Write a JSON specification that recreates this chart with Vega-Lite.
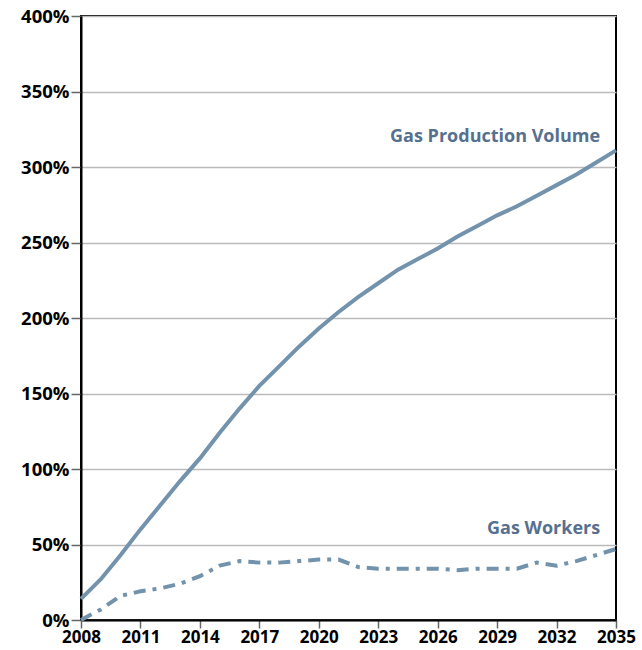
{
  "$schema": "https://vega.github.io/schema/vega-lite/v6.json",
  "width": 535,
  "height": 604,
  "autosize": {"type": "none"},
  "padding": {"left": 81, "top": 16, "right": 26, "bottom": 30},
  "background": "white",
  "config": {
    "view": {"stroke": "black", "strokeWidth": 2},
    "font": "Open Sans",
    "axis": {
      "labelFont": "Open Sans", "labelFontWeight": "bold", "labelFontSize": 17, "labelColor": "black",
      "domainColor": "black", "domainWidth": 2, "tickColor": "#666", "tickWidth": 1.5,
      "title": null
    }
  },
  "datasets": {
    "series": [
      {"year": 2008, "prod": 14, "work": 0},
      {"year": 2009, "prod": 27, "work": 7},
      {"year": 2010, "prod": 43, "work": 16},
      {"year": 2011, "prod": 60, "work": 19},
      {"year": 2012, "prod": 76, "work": 21},
      {"year": 2013, "prod": 92, "work": 24},
      {"year": 2014, "prod": 107, "work": 29},
      {"year": 2015, "prod": 124, "work": 36},
      {"year": 2016, "prod": 140, "work": 39},
      {"year": 2017, "prod": 155, "work": 38},
      {"year": 2018, "prod": 168, "work": 38},
      {"year": 2019, "prod": 181, "work": 39},
      {"year": 2020, "prod": 193, "work": 40},
      {"year": 2021, "prod": 204, "work": 40},
      {"year": 2022, "prod": 214, "work": 35},
      {"year": 2023, "prod": 223, "work": 34},
      {"year": 2024, "prod": 232, "work": 34},
      {"year": 2025, "prod": 239, "work": 34},
      {"year": 2026, "prod": 246, "work": 34},
      {"year": 2027, "prod": 254, "work": 33},
      {"year": 2028, "prod": 261, "work": 34},
      {"year": 2029, "prod": 268, "work": 34},
      {"year": 2030, "prod": 274, "work": 34},
      {"year": 2031, "prod": 281, "work": 38},
      {"year": 2032, "prod": 288, "work": 36},
      {"year": 2033, "prod": 295, "work": 39},
      {"year": 2034, "prod": 303, "work": 43},
      {"year": 2035, "prod": 311, "work": 47}
    ],
    "labels": [
      {"year": 2034.2, "value": 320, "label": "Gas Production Volume"},
      {"year": 2034.2, "value": 60, "label": "Gas Workers"}
    ]
  },
  "layer": [
    {
      "data": {"name": "series"},
      "mark": {"type": "line", "color": "#7393ad", "strokeWidth": 4, "strokeDash": [12, 7, 4, 7]},
      "encoding": {
        "x": {"field": "year", "type": "quantitative",
              "scale": {"domain": [2008, 2035], "nice": false, "zero": false},
              "axis": {"values": [2008, 2011, 2014, 2017, 2020, 2023, 2026, 2029, 2032, 2035], "format": "d", "grid": false, "tickSize": 8, "labelPadding": 1, "labelFlush": false}},
        "y": {"field": "work", "type": "quantitative",
              "scale": {"domain": [0, 400], "nice": false},
              "axis": {"values": [0, 50, 100, 150, 200, 250, 300, 350, 400], "labelExpr": "datum.value + '%'", "labelFontSize": 18.5, "grid": true, "gridColor": "#bbbbbb", "gridWidth": 1.5, "tickSize": 10, "labelPadding": 2}}
      }
    },
    {
      "data": {"name": "series"},
      "mark": {"type": "line", "color": "#7393ad", "strokeWidth": 4},
      "encoding": {
        "x": {"field": "year", "type": "quantitative"},
        "y": {"field": "prod", "type": "quantitative"}
      }
    },
    {
      "data": {"name": "labels"},
      "mark": {"type": "text", "align": "right", "baseline": "middle", "font": "Open Sans", "fontWeight": "bold", "fontSize": 18, "color": "#56708f"},
      "encoding": {
        "x": {"field": "year", "type": "quantitative"},
        "y": {"field": "value", "type": "quantitative"},
        "text": {"field": "label"}
      }
    }
  ]
}
